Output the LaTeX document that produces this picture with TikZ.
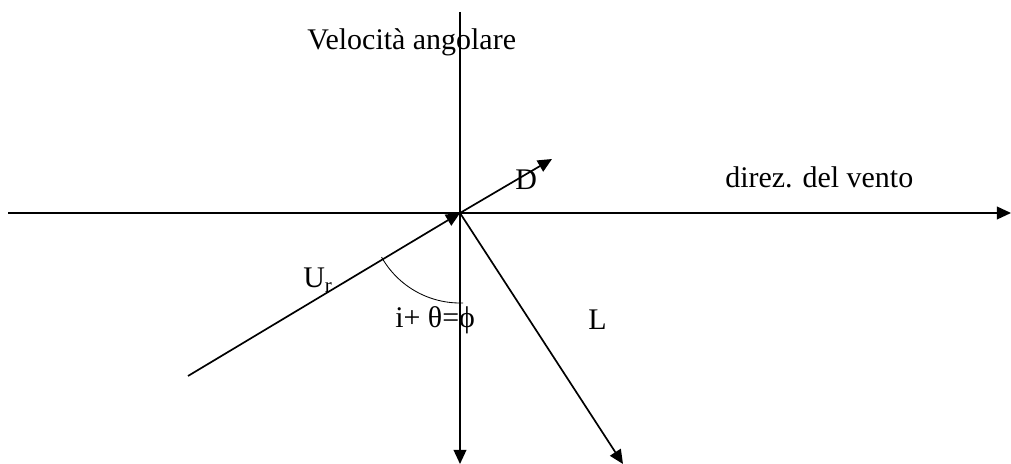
\documentclass[tikz,border=0pt]{standalone}
\usepackage{fontspec}
\setmainfont{Liberation Serif}
\usetikzlibrary{arrows.meta}

\begin{document}
\begin{tikzpicture}[x=0.025cm,y=-0.025cm,
    vec/.style={line width=1.2pt,-{Triangle[length=10pt,width=9pt]}},
    lbl/.style={anchor=base west,inner sep=0pt,font=\fontsize{21.3}{25}\selectfont}]
    \useasboundingbox (0,0) rectangle (1011,464);
    \coordinate (O) at (460,213);
    \coordinate (W) at (8,213);
    \coordinate (E) at (1011,213);
    \coordinate (N) at (460,12);
    \coordinate (S) at (460,464);
    \coordinate (U) at (188,376);
    \coordinate (D) at (552,159);
    \coordinate (L) at (623,464);

    \node[lbl] (velang) at (307,50) {Velocità angolare};
    \node[lbl] (vento) at (725,188) {direz. del vento};
    \node[lbl] (Dlab) at (515,190) {D};
    \node[lbl] (Ulab) at (303,288) {U\textsubscript{r}};
    \node[lbl] (ang) at (395,328) {i+ θ=ϕ};
    \node[lbl] (Llab) at (588,330) {L};

    \path[vec]
    (W) edge (E)
    (N) edge (S)
    (U) edge (O)
    (O) edge (D)
    (O) edge (L);
    \draw[line width=0.6pt] (O) ++(150.6:90) arc[start angle=150.6,end angle=88,radius=90];
\end{tikzpicture}
\end{document}
